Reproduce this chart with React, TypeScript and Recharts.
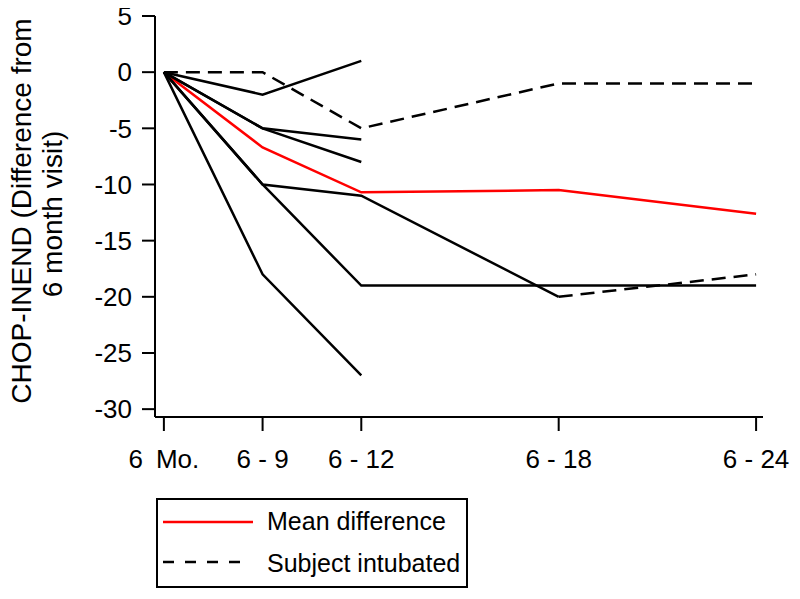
import { Legend, Line, LineChart, XAxis, YAxis } from "recharts";

const months = [6, 9, 12, 18, 24];
const tickLabels = ["6\u2002Mo.", "6 - 9", "6 - 12", "6 - 18", "6 - 24"];
const yTicks = [-30, -25, -20, -15, -10, -5, 0, 5];

// mean of all subjects (red)
const meanDiff = [0, -6.7, -10.7, -10.5, -12.6];

// individual subjects, null = no visit
const subjectA = [0, -2, 1, null, null];
const subjectB = [0, -5, -6, null, null];
const subjectC = [0, -5, -8, null, null];
const subjectD = [0, -10, -11, -20, null];
const subjectE = [0, -10, -19, -19, -19];
const subjectF = [0, -18, -27, null, null];

// intubated stretches (dashed)
const intubatedB = [0, 0, -5, -1, -1];
const intubatedD = [null, null, null, -20, -18];

const data = months.map((m, i) => ({
  month: m,
  mean: meanDiff[i],
  a: subjectA[i],
  b: subjectB[i],
  c: subjectC[i],
  d: subjectD[i],
  e: subjectE[i],
  f: subjectF[i],
  ib: intubatedB[i],
  id: intubatedD[i]
}));

const FONT = "'Liberation Sans', Arial, sans-serif";

const solidKeys = ["a", "b", "c", "d", "e", "f"];
const dashedKeys = ["ib", "id"];

const AxisTitle = () => (
  <g fontFamily={FONT} fontSize={28} fill="#000">
    <text transform="translate(31, 211) rotate(-90)" textAnchor="middle">
      CHOP-INEND (Difference from
    </text>
    <text transform="translate(62, 214) rotate(-90)" textAnchor="middle">
      6 month visit)
    </text>
  </g>
);

const LegendBox = () => (
  <svg width={312} height={90} style={{ display: "block" }}>
    <rect x={1} y={1} width={310} height={88} fill="#fff" stroke="#000" strokeWidth={2} />
    <line x1={7} x2={97} y1={24} y2={24} stroke="#ff0000" strokeWidth={2.5} />
    <text x={111} y={32} fontFamily={FONT} fontSize={25} fill="#000">
      Mean difference
    </text>
    <line x1={7} x2={93} y1={64} y2={64} stroke="#000" strokeWidth={2.5} strokeDasharray="11 11" />
    <text x={111} y={74} fontFamily={FONT} fontSize={25} fill="#000">
      Subject intubated
    </text>
  </svg>
);

export default function App() {
  return (
    <div style={{ margin: "-8px 0 0 -8px" }}>
      <LineChart
        width={798}
        height={593}
        data={data}
        margin={{ top: 16, right: 35, bottom: 116, left: 8 }}
      >
        <XAxis
          dataKey="month"
          type="number"
          domain={[5.73, 24.21]}
          allowDataOverflow
          ticks={months}
          tickFormatter={(v) => tickLabels[months.indexOf(v)] ?? ""}
          axisLine={{ stroke: "#000", strokeWidth: 2 }}
          tickLine={{ stroke: "#000", strokeWidth: 2 }}
          tickSize={14}
          tickMargin={19}
          height={60}
          interval={0}
          tick={{ fill: "#000", fontSize: 26, fontFamily: FONT }}
        />
        <YAxis
          type="number"
          domain={[-30.7, 5]}
          allowDataOverflow
          ticks={yTicks}
          interval={0}
          width={147}
          axisLine={{ stroke: "#000", strokeWidth: 2 }}
          tickLine={{ stroke: "#000", strokeWidth: 2 }}
          tickSize={13}
          tickMargin={10}
          tick={{ fill: "#000", fontSize: 26, fontFamily: FONT }}
          label={<AxisTitle />}
        />
        <Legend
          layout="horizontal"
          verticalAlign="middle"
          align="center"
          content={<LegendBox />}
          wrapperStyle={{ position: "absolute", left: 156, top: 498, width: 312, height: 90 }}
        />
        <Line
          dataKey="mean"
          stroke="#ff0000"
          strokeWidth={2.5}
          dot={false}
          isAnimationActive={false}
          legendType="none"
        />
        {solidKeys.map((k) => (
          <Line
            key={k}
            dataKey={k}
            stroke="#000"
            strokeWidth={2.5}
            dot={false}
            isAnimationActive={false}
            legendType="none"
          />
        ))}
        {dashedKeys.map((k) => (
          <Line
            key={k}
            dataKey={k}
            stroke="#000"
            strokeWidth={2.5}
            strokeDasharray="14 8"
            dot={false}
            isAnimationActive={false}
            legendType="none"
          />
        ))}
      </LineChart>
    </div>
  );
}
